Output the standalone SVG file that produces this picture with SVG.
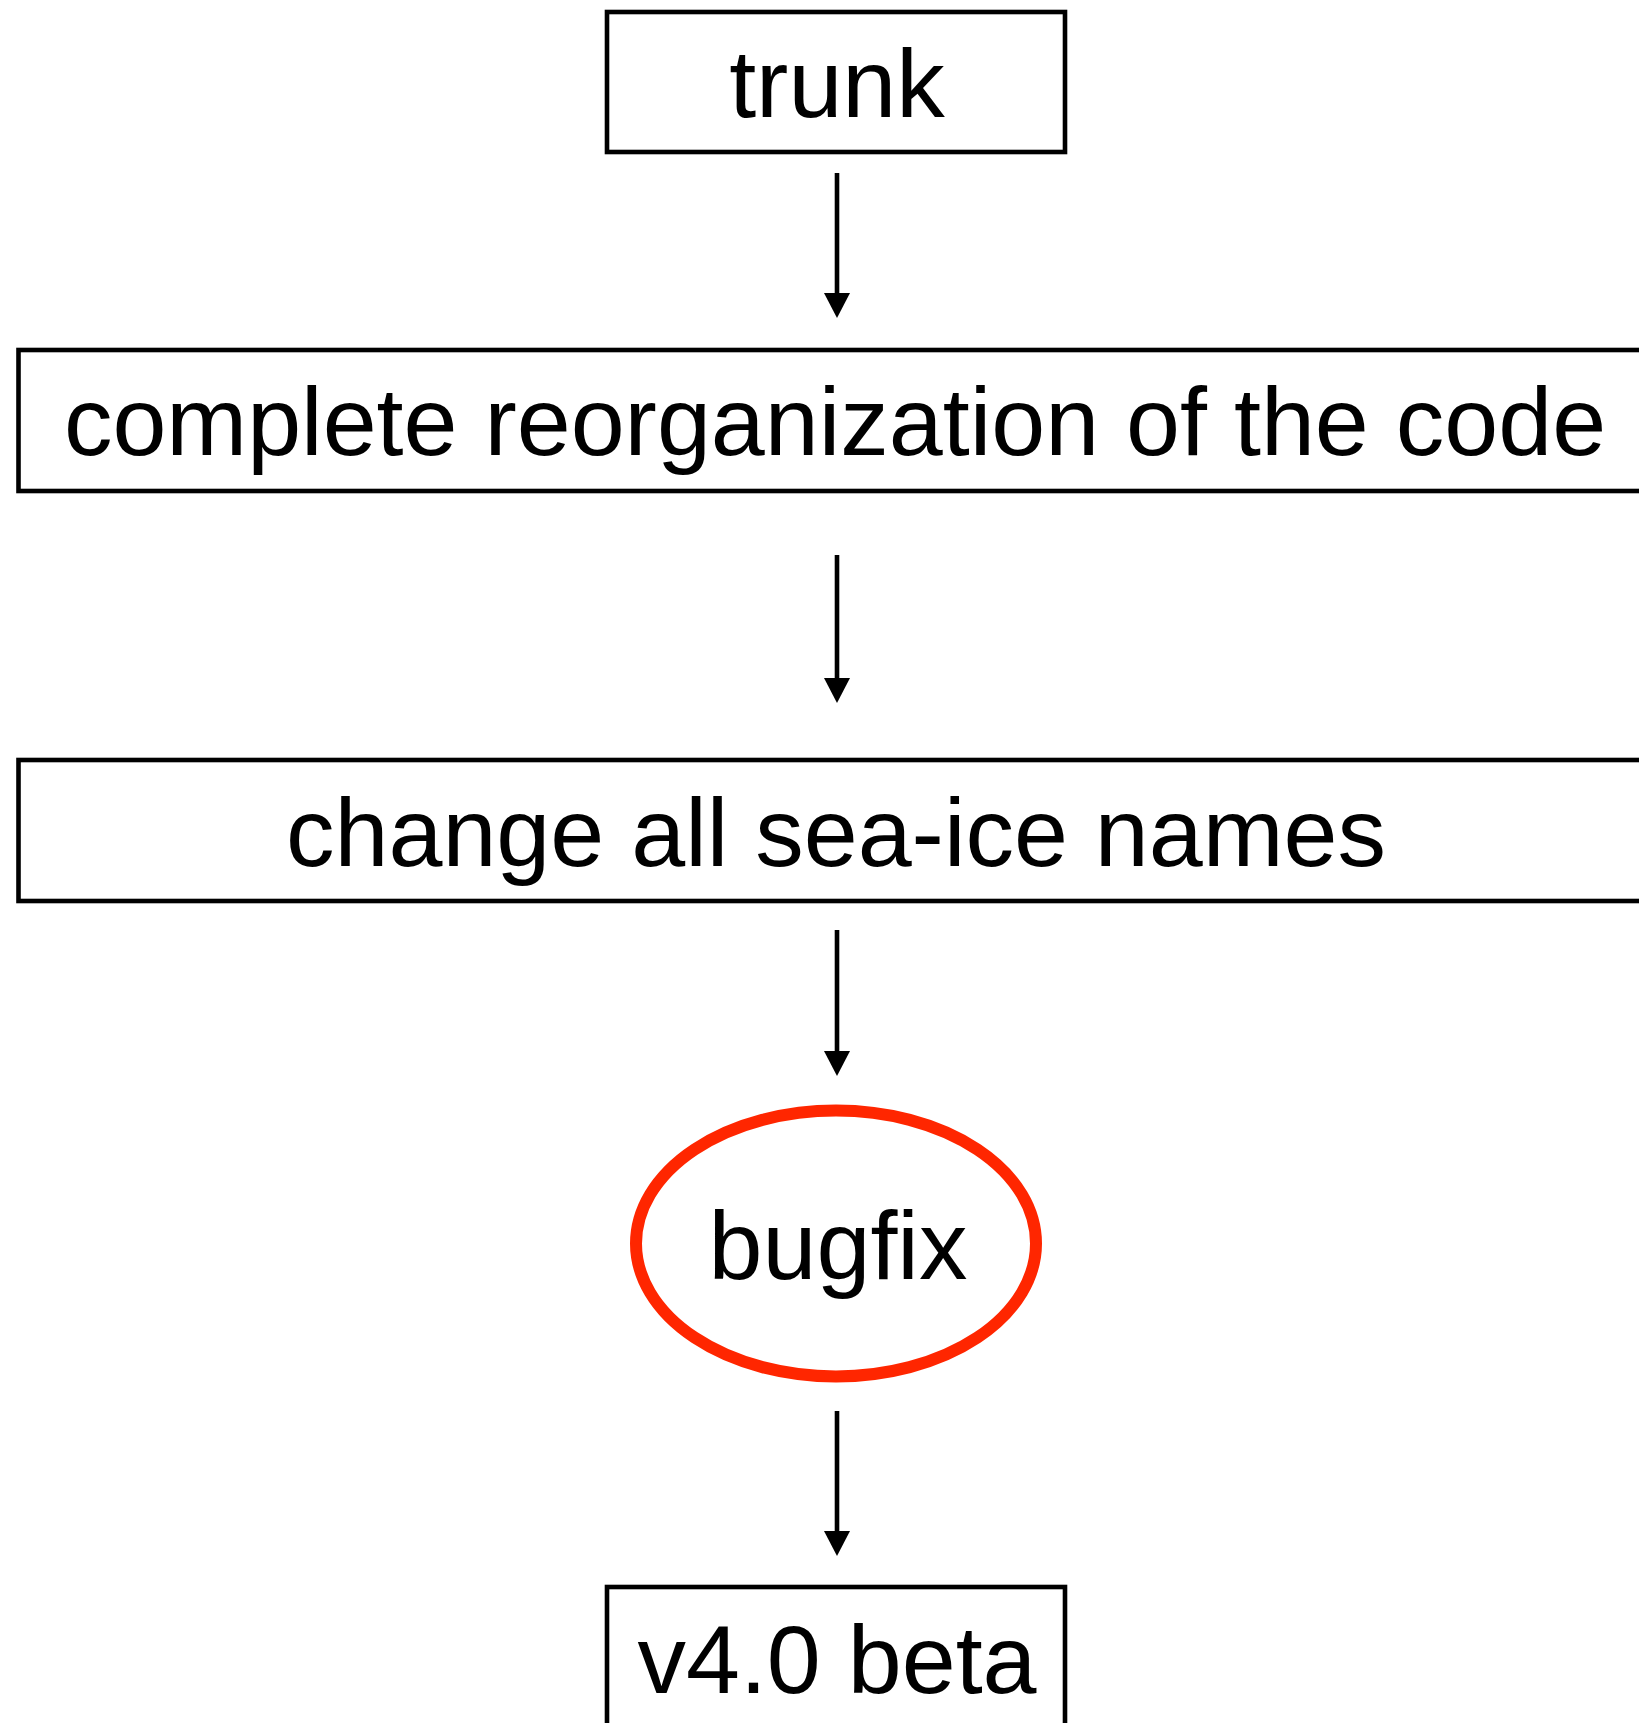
<svg xmlns="http://www.w3.org/2000/svg" width="1639" height="1723" viewBox="0 0 1639 1723">
<style>
.box{fill:#fff;stroke:#000;stroke-width:4.6}
.lbl{font-family:"Liberation Sans",Arial,sans-serif;font-size:97px;fill:#000;text-anchor:middle}
.conn{stroke:#000;stroke-width:4.6;fill:none}
.head{fill:#000}
</style>
<rect width="1639" height="1723" fill="#fff"/>
<g id="connectors">
<line class="conn" x1="837" y1="173" x2="837" y2="296"/>
<path class="head" d="M824,293 L850,293 L837,318 Z"/>
<line class="conn" x1="837" y1="555" x2="837" y2="681"/>
<path class="head" d="M824,678 L850,678 L837,703 Z"/>
<line class="conn" x1="837" y1="930" x2="837" y2="1054"/>
<path class="head" d="M824,1051 L850,1051 L837,1076 Z"/>
<line class="conn" x1="837" y1="1411" x2="837" y2="1534"/>
<path class="head" d="M824,1531 L850,1531 L837,1556 Z"/>
</g>
<g id="trunk">
<rect class="box" x="607" y="12" width="458" height="140"/>
<text class="lbl" x="837" y="117">trunk</text>
</g>
<g id="reorg">
<rect class="box" x="18.5" y="350" width="1640" height="141"/>
<text class="lbl" x="835" y="455">complete reorganization of the code</text>
</g>
<g id="rename">
<rect class="box" x="18.5" y="760" width="1640" height="141"/>
<text class="lbl" x="836" y="866">change all sea-ice names</text>
</g>
<g id="bugfix">
<ellipse cx="836" cy="1243.5" rx="200" ry="133" fill="#fff" stroke="#ff2600" stroke-width="12"/>
<text class="lbl" x="838" y="1279">bugfix</text>
</g>
<g id="v40beta">
<rect class="box" x="607" y="1587" width="458" height="160"/>
<text class="lbl" x="837" y="1693">v4.0 beta</text>
</g>
</svg>
